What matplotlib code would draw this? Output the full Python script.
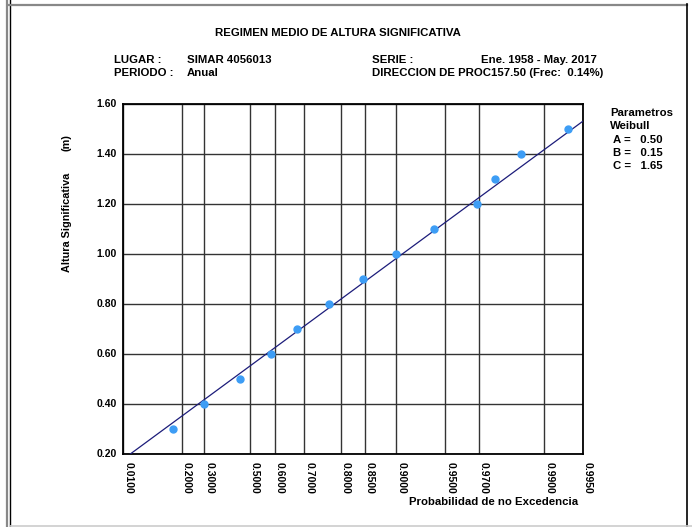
import numpy as np
import matplotlib
matplotlib.use('Agg')
import matplotlib.pyplot as plt
import matplotlib.transforms as mtransforms
from matplotlib.lines import Line2D

# Weibull parameters (shown on chart)
A, B, C = 0.50, 0.15, 1.65

# observed points: non-exceedance probability vs significant height
prob = [0.163, 0.296, 0.459, 0.584, 0.678, 0.770, 0.847, 0.900, 0.941, 0.969, 0.977, 0.985, 0.9935]
height = [0.30, 0.40, 0.50, 0.60, 0.70, 0.80, 0.90, 1.00, 1.10, 1.20, 1.30, 1.40, 1.50]

# fitted line end points
line_p = [0.01, 0.995]
line_h = [0.18, 1.53]

xticks = [0.01, 0.2, 0.3, 0.5, 0.6, 0.7, 0.8, 0.85, 0.9, 0.95, 0.97, 0.99, 0.995]
yticks = [0.2, 0.4, 0.6, 0.8, 1.0, 1.2, 1.4, 1.6]

W, H = 692, 527
FS = 8.2
plt.rcParams['font.family'] = ['Liberation Sans', 'DejaVu Sans']
plt.rcParams['font.weight'] = 'bold'

fig = plt.figure(figsize=(W / 100, H / 100), dpi=100)


def fx(x):
    return x / W


def fy(y):
    return 1 - y / H


def fwd(p):
    p = np.clip(p, 1e-9, 1 - 1e-9)
    return (-np.log(1 - p)) ** (1 / C)


def inv(x):
    x = np.clip(x, 0, None)
    return 1 - np.exp(-x ** C)


ax = fig.add_axes([fx(123.5), fy(454), fx(582.5) - fx(123.5), fy(104) - fy(454)])
ax.set_xscale('function', functions=(fwd, inv))
ax.set_xlim(0.01, 0.995)
ax.set_ylim(0.2, 1.6)

for t in xticks:
    ax.axvline(t, color='#333333', lw=1.0, zorder=1)
for t in yticks:
    ax.axhline(t, color='#333333', lw=1.0, zorder=1)

ax.plot(line_p, line_h, color='#1c1c7a', lw=0.9, zorder=3)
ax.plot(prob, height, 'o', color='#3d9df5', ms=5, mec='#3d9df5', zorder=4)

ax.set_xticks(xticks)
ax.set_xticklabels(['%.4f' % t for t in xticks], rotation=270, fontsize=7.5, fontweight='bold',
                   ha='left', va='top')
ax.set_yticks(yticks)
ax.set_yticklabels(['%.2f' % t for t in yticks], fontsize=7.5, fontweight='bold', va='center')
up = mtransforms.ScaledTranslation(0, 3 / 100, fig.dpi_scale_trans)
for lab in ax.get_yticklabels():
    lab.set_transform(lab.get_transform() + up)
ax.tick_params(length=0, pad=5)
ax.tick_params(axis='x', pad=6)
ax.minorticks_off()
for s in ax.spines.values():
    s.set_linewidth(1.3)

# texts
fig.text(fx(337.5), fy(33), 'REGIMEN MEDIO DE ALTURA SIGNIFICATIVA', ha='center', va='center', fontsize=FS)
fig.text(fx(114), fy(60), 'LUGAR :', va='center', fontsize=FS)
fig.text(fx(187), fy(60), 'SIMAR 4056013', va='center', fontsize=FS)
fig.text(fx(114), fy(73), 'PERIODO :', va='center', fontsize=FS)
fig.text(fx(187), fy(73), 'Anual', va='center', fontsize=FS)
fig.text(fx(372.5), fy(60), 'SERIE :', va='center', fontsize=FS)
fig.text(fx(597), fy(60), 'Ene. 1958 - May. 2017', ha='right', va='center', fontsize=FS)
fig.text(fx(372.5), fy(73), 'DIRECCION DE PROC157.50 (Frec:  0.14%)', va='center', fontsize=FS)

fig.text(fx(67), fy(222), 'Altura Significativa', rotation=90, ha='center', va='center', fontsize=7.8)
fig.text(fx(67), fy(143), '(m)', rotation=90, ha='center', va='center', fontsize=7.8)
fig.text(fx(578), fy(502), 'Probabilidad de no Excedencia', ha='right', va='center', fontsize=FS)

fig.text(fx(610), fy(113), 'Parametros', va='center', fontsize=FS)
fig.text(fx(610), fy(126), 'Weibull', va='center', fontsize=FS)
fig.text(fx(613), fy(140), 'A =   %.2f' % A, va='center', fontsize=FS)
fig.text(fx(613), fy(153), 'B =   %.2f' % B, va='center', fontsize=FS)
fig.text(fx(613), fy(166), 'C =   %.2f' % C, va='center', fontsize=FS)

# outer frame
fig.add_artist(Line2D([fx(7), fx(7)], [0, 1], color='#888888', lw=1.6))
fig.add_artist(Line2D([fx(10), fx(10)], [0, 1], color='black', lw=1.0))
fig.add_artist(Line2D([fx(8), fx(687)], [fy(4.5), fy(4.5)], color='#888888', lw=1.6))
fig.add_artist(Line2D([fx(686.5), fx(686.5)], [fy(4), 0], color='black', lw=1.2))
fig.add_artist(Line2D([fx(10), fx(692)], [fy(525.5), fy(525.5)], color='#cccccc', lw=1.2))

fig.savefig('out.png', dpi=100)
